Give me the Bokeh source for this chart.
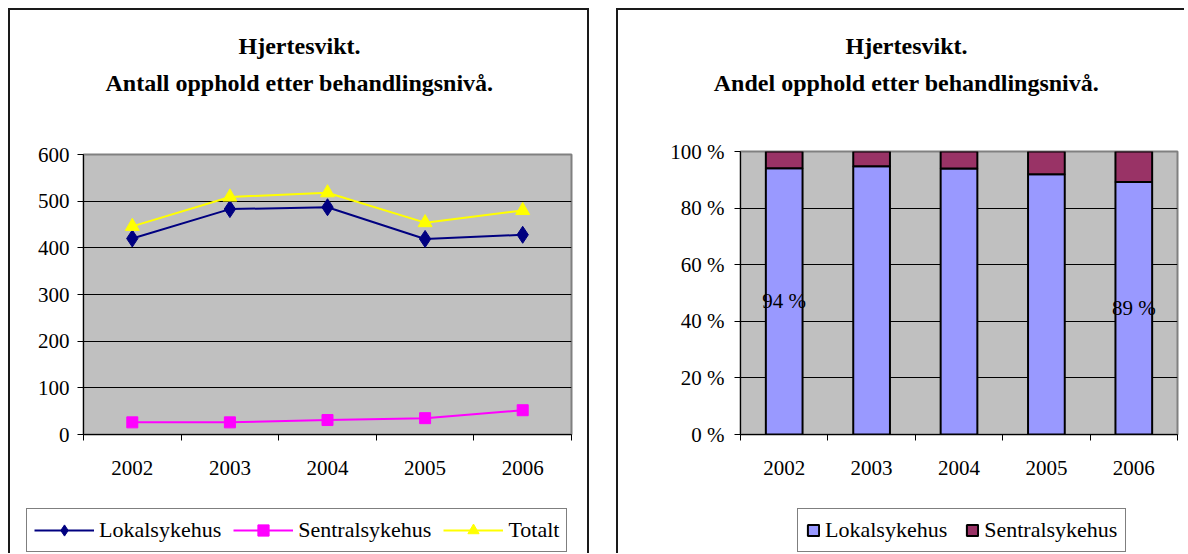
from bokeh.plotting import figure
from bokeh.models import (Range1d, LinearAxis, FixedTicker, Label, ColumnDataSource,
                          Legend, LegendItem)
from bokeh.layouts import row, column
from bokeh.core.properties import value
from bokeh.embed import file_html
from bokeh.resources import INLINE

# ---------------- data ----------------
years = ["2002", "2003", "2004", "2005", "2006"]
lokal = [420, 483, 487, 419, 428]
sentral = [26, 26, 31, 35, 52]
totalt = [446, 509, 518, 454, 480]

lokal_pct = [94.1, 94.8, 94.0, 92.0, 89.2]
sentral_pct = [5.9, 5.2, 6.0, 8.0, 10.8]
label_years = ["2002", "2006"]
label_vals = [94.1, 89.2]
label_texts = ["94 %", "89 %"]

y_ticks_left = [0, 100, 200, 300, 400, 500, 600]
y_ticks_right = [0, 20, 40, 60, 80, 100]
y_labels_right = {0: "0 %", 20: "20 %", 40: "40 %", 60: "60 %", 80: "80 %", 100: "100 %"}

title_line1 = "Hjertesvikt."
title_left = "Antall opphold etter behandlingsnivå."
title_right = "Andel opphold etter behandlingsnivå."

FONT = "'Liberation Serif'"
FS = "21px"
PANEL_BORDER = "2px solid #1a1a1a"

# category slots: each year occupies one unit, centred at i + 0.5
n = len(years)
xpos = [i + 0.5 for i in range(n)]
year_to_x = dict(zip(years, xpos))


def blank_strip(width, height):
    """White strip whose plot area is the whole canvas (1 data unit = 1 px)."""
    f = figure(width=width, height=height, x_range=Range1d(0, width),
               y_range=Range1d(0, height), x_axis_location=None, y_axis_location=None,
               output_backend="svg", toolbar_location=None, min_border=0,
               outline_line_color=None, background_fill_color="white",
               border_fill_color="white")
    f.xgrid.grid_line_color = None
    f.ygrid.grid_line_color = None
    return f


def title_strip(width, line2, cx):
    f = blank_strip(width, 112)
    for text, y in [(title_line1, 77), (line2, 40)]:
        f.add_layout(Label(x=cx, y=y, text=text, text_align="center",
                           text_baseline="middle", text_font=FONT,
                           text_font_size="24px", text_font_style="bold",
                           text_color="black"))
    return f


def style_common(p, yticks, y_standoff):
    p.background_fill_color = "#C0C0C0"
    p.border_fill_color = "white"
    p.outline_line_color = "#808080"
    p.outline_line_width = 2
    p.xgrid.grid_line_color = None
    p.ygrid.grid_line_color = "black"
    p.ygrid.grid_line_width = 1
    p.ygrid.ticker = FixedTicker(ticks=yticks)
    yax = p.yaxis[0]
    yax.ticker = FixedTicker(ticks=yticks)
    yax.axis_line_color = "black"
    yax.axis_line_width = 1
    yax.major_tick_line_color = "black"
    yax.major_tick_out = 6
    yax.major_tick_in = 0
    yax.minor_tick_line_color = None
    yax.major_label_text_font = FONT
    yax.major_label_text_font_size = FS
    yax.major_label_text_color = "black"
    yax.major_label_standoff = y_standoff

    # category labels at slot centres, boundary ticks (Excel style) as minor ticks
    xax = LinearAxis(ticker=FixedTicker(ticks=xpos, minor_ticks=list(range(n + 1))),
                     major_label_overrides={x: y for x, y in zip(xpos, years)},
                     axis_line_color="black", axis_line_width=1,
                     major_tick_line_color=None, major_tick_out=0, major_tick_in=0,
                     minor_tick_line_color="black", minor_tick_out=6, minor_tick_in=0,
                     major_label_text_font=FONT,
                     major_label_text_font_size=FS,
                     major_label_text_color="black",
                     major_label_standoff=20)
    p.add_layout(xax, "below")


def legend_strip(width, items, loc, glyph_w, glyph_h, spacing, padding):
    """A strip below the chart that only holds the chart's legend."""
    lf = figure(width=width, height=58, x_range=Range1d(-2, -1), y_range=Range1d(-2, -1),
                x_axis_location=None, y_axis_location=None,
                output_backend="svg", toolbar_location=None,
                min_border=0, outline_line_color=None,
                background_fill_color="white", border_fill_color="white")
    lf.xgrid.grid_line_color = None
    lf.ygrid.grid_line_color = None
    leg_items = [LegendItem(label=label, renderers=make(lf)) for label, make in items]
    lg = Legend(items=leg_items, location=loc, orientation="horizontal",
                border_line_color="black", border_line_width=1,
                background_fill_color="white", background_fill_alpha=1,
                label_text_font=FONT, label_text_font_size="22px",
                label_text_color="black", padding=padding, spacing=spacing,
                label_standoff=5, glyph_width=glyph_w, glyph_height=glyph_h,
                margin=0)
    lf.add_layout(lg, "center")
    return lf


# ---------------- left chart ----------------
t1 = title_strip(581, title_left, 289)
t1.styles = {"border-top": PANEL_BORDER, "border-left": PANEL_BORDER,
             "border-right": PANEL_BORDER}

p1 = figure(width=581, height=375, x_range=Range1d(0, n), y_range=Range1d(0, 600),
            x_axis_location=None, output_backend="svg", toolbar_location=None,
            min_border_left=73, min_border_right=20, min_border_top=34,
            min_border_bottom=61)
style_common(p1, y_ticks_left, 8)

src1 = ColumnDataSource(dict(x=[year_to_x[y] for y in years],
                             lokal=lokal, sentral=sentral, totalt=totalt))
STY = {"lokal": ("#000080", "diamond", 17),
       "sentral": ("#FF00FF", "square", 11),
       "totalt": ("#FFFF00", "triangle", 14)}
for col in ["lokal", "sentral", "totalt"]:
    c, mk, sz = STY[col]
    p1.line("x", col, source=src1, color=c, line_width=2)
    p1.scatter("x", col, source=src1, marker=mk, size=sz, color=c)
p1.styles = {"border-left": PANEL_BORDER, "border-right": PANEL_BORDER}


def line_marker(col):
    def make(f):
        c, mk, sz = STY[col]
        return [f.line("x", col, source=src1, color=c, line_width=2),
                f.scatter("x", col, source=src1, marker=mk, size=sz, color=c)]
    return make


lg1 = legend_strip(581, [("Lokalsykehus", line_marker("lokal")),
                         ("Sentralsykehus", line_marker("sentral")),
                         ("Totalt", line_marker("totalt"))],
                   (16, 1), 60, 28, 12, 7)
lg1.styles = {"border-left": PANEL_BORDER, "border-right": PANEL_BORDER}

# ---------------- right chart ----------------
t2 = title_strip(568, title_right, 288)
t2.styles = {"border-top": PANEL_BORDER, "border-left": PANEL_BORDER}

p2 = figure(width=568, height=375, x_range=Range1d(0, n), y_range=Range1d(0, 100),
            x_axis_location=None, output_backend="svg", toolbar_location=None,
            min_border_left=122, min_border_right=9, min_border_top=31,
            min_border_bottom=61)
style_common(p2, y_ticks_right, 10)
p2.yaxis[0].major_label_overrides = y_labels_right

src2 = ColumnDataSource(dict(x=[year_to_x[y] for y in years],
                             lokal=lokal_pct, sentral=sentral_pct))
BAR = {"lokal": "#9999FF", "sentral": "#993366"}
p2.vbar_stack(["lokal", "sentral"], x="x", width=0.42, source=src2,
              fill_color=[BAR["lokal"], BAR["sentral"]], line_color="black", line_width=2)
src_lbl = ColumnDataSource(dict(x=[year_to_x[y] for y in label_years],
                                y=[v / 2 for v in label_vals],
                                text=label_texts))
p2.text(x="x", y="y", text="text", source=src_lbl, text_align="center",
        text_baseline="middle", text_font=value(FONT), text_font_size=FS,
        text_color="black")
p2.styles = {"border-left": PANEL_BORDER}


def bar_item(col):
    def make(f):
        return [f.vbar(x="x", top=col, width=0.42, source=src2, fill_color=BAR[col],
                       line_color="black", line_width=2)]
    return make


lg2 = legend_strip(568, [("Lokalsykehus", bar_item("lokal")),
                         ("Sentralsykehus", bar_item("sentral"))],
                   (179, 1), 14, 14, 18, 8)
lg2.styles = {"border-left": PANEL_BORDER}

titles = row(t1, t2, spacing=27, margin=(8, 0, 0, 8))
charts = row(column(p1), column(p2), spacing=27, margin=(0, 0, 0, 8))
legends = row(lg1, lg2, spacing=27, margin=(0, 0, 0, 8))
open("out.html", "w").write(file_html([titles, charts, legends], INLINE))
